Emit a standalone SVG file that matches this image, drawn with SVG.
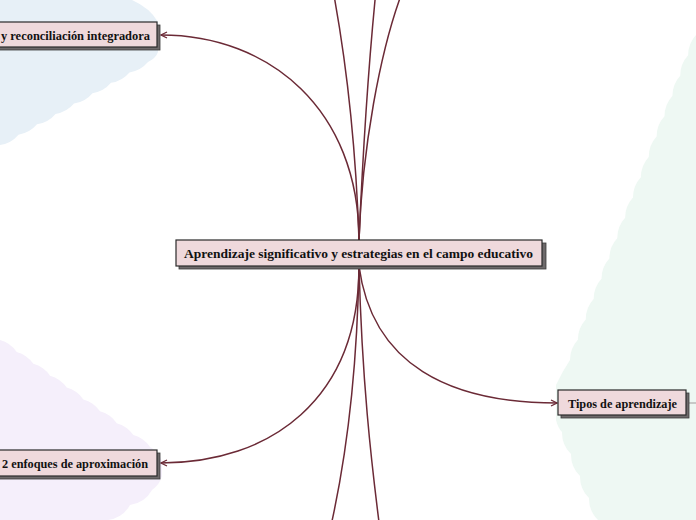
<svg xmlns="http://www.w3.org/2000/svg" width="696" height="520" viewBox="0 0 696 520">
<defs>
<style>
.bg{stroke:none}
.box{fill:#efd9dc;stroke:#2a2a2a;stroke-width:1.2}
.shadow{fill:#6e6a6b;stroke:#3a3a3a;stroke-width:0.8}
.lbl{font-family:"Liberation Serif","Times New Roman",serif;font-weight:bold;font-size:13.5px;fill:#111}
.con{fill:none;stroke:#6b2a36;stroke-width:1.5}
</style>
<marker id="arr" viewBox="0 0 8 8" refX="7" refY="4" markerWidth="8" markerHeight="8" markerUnits="userSpaceOnUse" orient="auto">
<path d="M1,1 L7,4 L1,7" fill="none" stroke="#6b2a36" stroke-width="1.3"/>
</marker>
</defs>
<rect width="696" height="520" fill="#ffffff"/>
<g id="backgrounds">
<path class="bg" fill="#e7f0f7" d="M0,0 H132 Q150,8 158,22 V52 Q156,58 148,62 a30,30 0 0 1 -18.5,10.375 a30,30 0 0 1 -18.5,10.375 a30,30 0 0 1 -18.5,10.375 a30,30 0 0 1 -18.5,10.375 a30,30 0 0 1 -18.5,10.375 a30,30 0 0 1 -18.5,10.375 a30,30 0 0 1 -18.5,10.375 a30,30 0 0 1 -18.5,10.375 Z"/>
<path class="bg" fill="#f5effb" d="M0,340 a30,30 0 0 1 16.667,11.889 a30,30 0 0 1 16.667,11.889 a30,30 0 0 1 16.667,11.889 a30,30 0 0 1 16.667,11.889 a30,30 0 0 1 16.667,11.889 a30,30 0 0 1 16.667,11.889 a30,30 0 0 1 16.667,11.889 a30,30 0 0 1 16.667,11.889 a30,30 0 0 1 16.667,11.889 Q160,452 162,462 V476 Q160,484 152,490 a30,30 0 0 1 -22,15 a30,30 0 0 1 -22,15 L0,520 Z"/>
<path class="bg" fill="#eef8f3" d="M696,35 a30,30 0 0 0 -7.875,20.3125 a30,30 0 0 0 -7.875,20.3125 a30,30 0 0 0 -7.875,20.3125 a30,30 0 0 0 -7.875,20.3125 a30,30 0 0 0 -7.875,20.3125 a30,30 0 0 0 -7.875,20.3125 a30,30 0 0 0 -7.875,20.3125 a30,30 0 0 0 -7.875,20.3125 a30,30 0 0 0 -7.875,20.3125 a30,30 0 0 0 -7.875,20.3125 a30,30 0 0 0 -7.875,20.3125 a30,30 0 0 0 -7.875,20.3125 a30,30 0 0 0 -7.875,20.3125 a30,30 0 0 0 -7.875,20.3125 a30,30 0 0 0 -7.875,20.3125 a30,30 0 0 0 -7.875,20.3125 Q562,372 556,385 V420 Q558,428 562,432 a30,30 0 0 0 9,22 a30,30 0 0 0 9,22 a30,30 0 0 0 9,22 a30,30 0 0 0 9,22 L696,520 Z"/>
</g>
<g id="connectors">
<path class="con" d="M359,240 C359,110 270,35 161,35" marker-end="url(#arr)"/>
<path class="con" d="M359,266 C359,400 270,463 161,463" marker-end="url(#arr)"/>
<path class="con" d="M359,266 C372,365 450,403 557,403" marker-end="url(#arr)"/>
<path class="con" d="M359,240 C356,150 346,60 333,-10"/>
<path class="con" d="M359,240 C363,150 369,60 376,-10"/>
<path class="con" d="M359,240 C362,150 380,50 403,-10"/>
<path class="con" d="M359,266 C357,380 346,460 330,530"/>
<path class="con" d="M359,266 C362,380 371,460 380,530"/>
<line x1="689" y1="403" x2="696" y2="403" stroke="#a09a9b" stroke-width="1"/>
</g>
<g id="node-main">
<rect class="shadow" x="179" y="243" width="367" height="26"/>
<rect class="box" x="176" y="240" width="366" height="26"/>
<text class="lbl" x="184" y="257.5" textLength="349" lengthAdjust="spacingAndGlyphs">Aprendizaje significativo y estrategias en el campo educativo</text>
</g>
<g id="node-reconciliacion">
<rect class="shadow" x="-10" y="25" width="170" height="25"/>
<rect class="box" x="-10" y="22" width="167" height="25"/>
<text class="lbl" x="1" y="39.5" textLength="149" lengthAdjust="spacingAndGlyphs">y reconciliación integradora</text>
</g>
<g id="node-enfoques">
<rect class="shadow" x="-10" y="453" width="170" height="26"/>
<rect class="box" x="-10" y="450" width="167" height="26"/>
<text class="lbl" x="2" y="467.5" textLength="146" lengthAdjust="spacingAndGlyphs">2 enfoques de aproximación</text>
</g>
<g id="node-tipos">
<rect class="shadow" x="561" y="393" width="128" height="25"/>
<rect class="box" x="558" y="390" width="128" height="25"/>
<text class="lbl" x="568" y="407.5" textLength="109" lengthAdjust="spacingAndGlyphs">Tipos de aprendizaje</text>
</g>
</svg>
